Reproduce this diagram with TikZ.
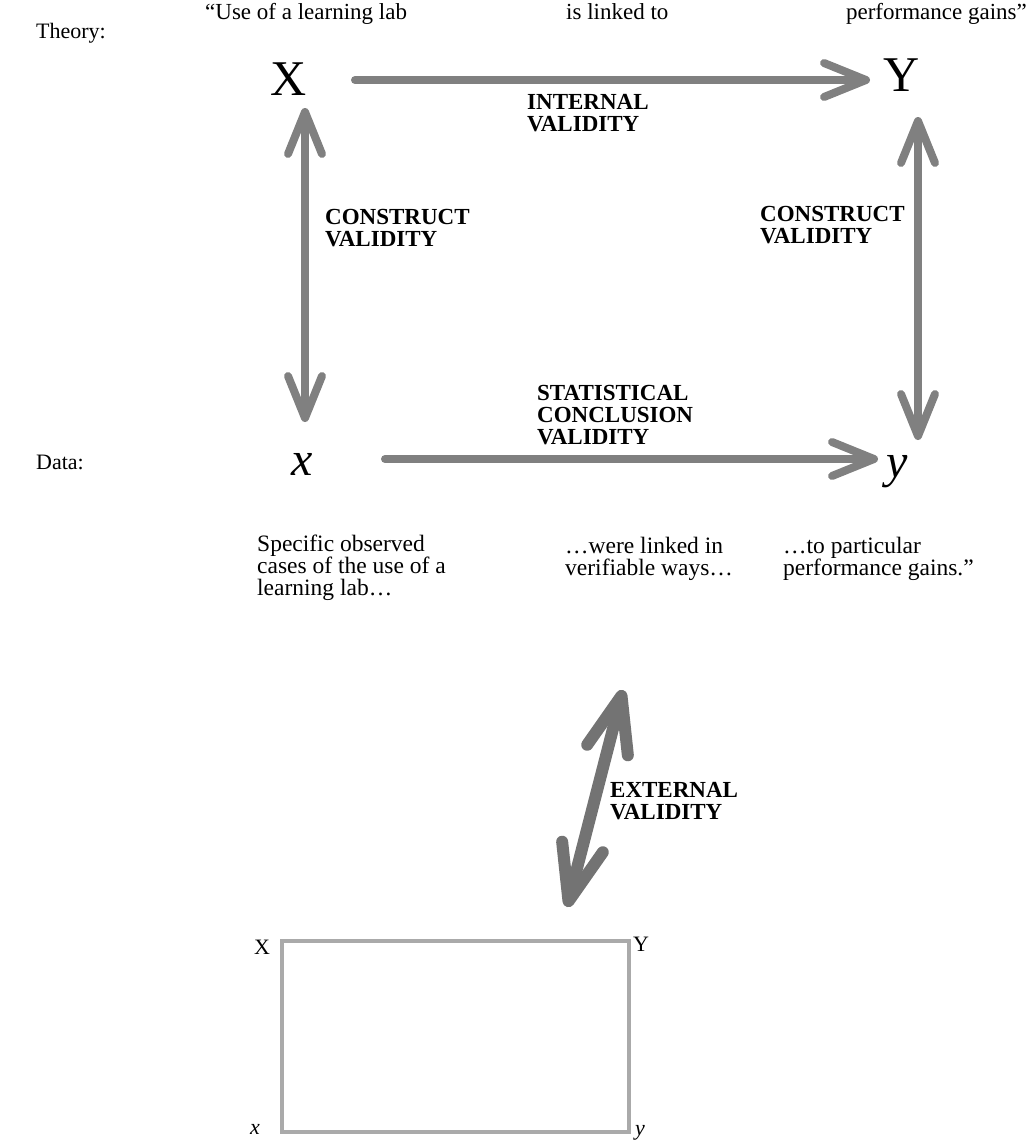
\documentclass[tikz,border=0pt]{standalone}
\usepackage{fontspec}
\setmainfont{Liberation Serif}
\usetikzlibrary{arrows.meta}
\definecolor{arrgray}{HTML}{808080}
\definecolor{extgray}{HTML}{737373}
\definecolor{boxgray}{HTML}{AAAAAA}
\tikzset{
  body/.style={anchor=base west, inner sep=0pt, align=left, font=\fontsize{23}{22.5}\selectfont},
  lower/.style={anchor=base west, inner sep=0pt, align=left, font=\fontsize{23.5}{22}\selectfont},
  lab/.style={anchor=base west, inner sep=0pt, align=left, font=\fontsize{23}{22}\selectfont\bfseries},
  bigvar/.style={anchor=base, inner sep=0pt, font=\fontsize{50}{50}\selectfont},
  smallvar/.style={anchor=base, inner sep=0pt, font=\fontsize{22}{22}\selectfont},
  barb/.tip={Straight Barb[length=42pt,width=34pt,round]},
  bigbarb/.tip={Straight Barb[length=56pt,width=42pt,round]},
  conn/.style={draw=arrgray, line width=8pt, line cap=round},
  extconn/.style={draw=extgray, line width=12pt, line cap=round},
}
\begin{document}
\begin{tikzpicture}[x=1pt,y=-1pt]
\useasboundingbox (0,0) rectangle (1032,1140);
% header texts
\node[body] (q1) at (205,20) {``Use of a learning lab};
\node[body] (q2) at (566,20) {is linked to};
\node[body, anchor=base east] (q3) at (1027,20) {performance gains''};
\node[body, font=\fontsize{22}{22}\selectfont] (theory) at (36,38) {Theory:};
\node[body, font=\fontsize{22}{22}\selectfont] (data) at (36,469) {Data:};
% variables
\node[bigvar] (X) at (289,95) {X};
\node[bigvar] (Y) at (902,91) {Y};
\node[bigvar, font=\fontsize{48}{48}\selectfont\itshape] (x) at (302,475) {x};
\node[bigvar, font=\fontsize{48}{48}\selectfont\itshape] (y) at (897,477) {y};
% arrow endpoints
\coordinate (tA) at (355,80);
\coordinate (tB) at (870,80);
\coordinate (lA) at (305,108);
\coordinate (lB) at (305,422);
\coordinate (rA) at (918,117);
\coordinate (rB) at (918,440);
\coordinate (bA) at (385,459);
\coordinate (bB) at (878,459);
\coordinate (eA) at (623,690);
\coordinate (eB) at (567,907);
% arrows
\draw[conn, -{barb}] (tA) -- (tB);
\draw[conn, {barb}-{barb}] (lA) -- (lB);
\draw[conn, {barb}-{barb}] (rA) -- (rB);
\draw[conn, -{barb}] (bA) -- (bB);
\draw[extconn, {bigbarb}-{bigbarb}] (eA) -- (eB);
% labels (base = last line)
\node[lab] (iv) at (527,131) {INTERNAL\\VALIDITY};
\node[lab] (cv1) at (325,246) {CONSTRUCT\\VALIDITY};
\node[lab] (cv2) at (760,243) {CONSTRUCT\\VALIDITY};
\node[lab] (scv) at (537,444) {STATISTICAL\\CONCLUSION\\VALIDITY};
\node[lab] (ev) at (610,819) {EXTERNAL\\VALIDITY};
% bottom texts (base = last line)
\node[lower] (b1) at (257,595) {Specific observed\\cases of the use of a\\learning lab\ldots};
\node[lower] (b2) at (565,575) {\ldots were linked in\\verifiable ways\ldots};
\node[lower] (b3) at (783,575) {\ldots to particular\\performance gains.''};
% small model
\draw[draw=boxgray, line width=4pt] (282,941) rectangle (629,1132);
\node[smallvar] (sX) at (262,954) {X};
\node[smallvar] (sY) at (641,951) {Y};
\node[smallvar, font=\fontsize{22}{22}\selectfont\itshape] (sx) at (255,1134) {x};
\node[smallvar, font=\fontsize{22}{22}\selectfont\itshape] (sy) at (640,1135) {y};
\end{tikzpicture}
\end{document}
